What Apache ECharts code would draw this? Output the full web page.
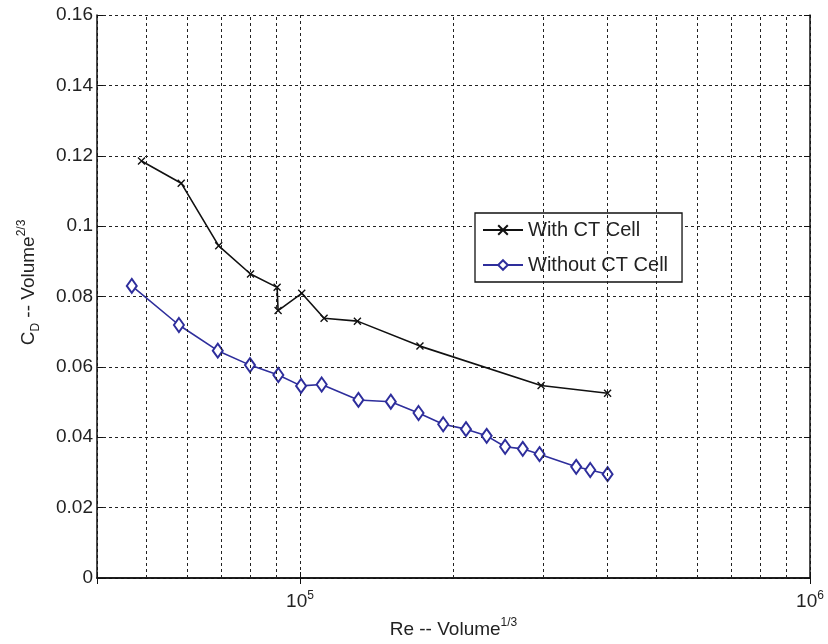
<!DOCTYPE html>
<html><head><meta charset="utf-8">
<script src="https://cdn.jsdelivr.net/npm/echarts@6/dist/echarts.min.js"></script>
<style>html,body{margin:0;padding:0;background:#fff}#c{width:828px;height:644px}</style>
</head><body><div id="c"></div>
<script>
// ---- data ----
const seriesNames = ['With CT Cell', 'Without CT Cell'];
const withCT_Re = [48900, 58500, 69300, 80000, 90200, 90600, 100800, 111500, 129600, 171900, 297000, 401000];
const withCT_CD = [0.1185, 0.1122, 0.0944, 0.0864, 0.0826, 0.0760, 0.0809, 0.0738, 0.0730, 0.0659, 0.0547, 0.0525];
const withoutCT_Re = [46800, 57900, 69000, 79800, 90700, 100500, 110300, 130200, 150700, 170800, 190900, 211600, 232300, 252500, 273400, 294900, 348000, 370800, 401000];
const withoutCT_CD = [0.0830, 0.0719, 0.0646, 0.0605, 0.0577, 0.0546, 0.0550, 0.0506, 0.0501, 0.0469, 0.0437, 0.0423, 0.0404, 0.0373, 0.0367, 0.0352, 0.0316, 0.0307, 0.0295];
const xRange = [4e4, 1e6];
const yRange = [0, 0.16];
const yStep = 0.02;
const minorGridRe = [5e4, 6e4, 7e4, 8e4, 9e4, 2e5, 3e5, 4e5, 5e5, 6e5, 7e5, 8e5, 9e5];
const xAxisTitle = '{n|Re -- Volume}{sup|1/3}';
const yAxisTitle = '{n|C}{sub|D}{n| -- Volume}{sup|2/3}';

const FONT = 'Liberation Sans';
const TXT = '#222';
const FS = 19;
const gridLine = { show: true, lineStyle: { color: '#222', type: [3, 3], width: 1 } };

function zip(xs, ys) { return xs.map((x, i) => [x, ys[i]]); }
function powLabel(v) {
  const e = Math.log10(v), r = Math.round(e);
  return Math.abs(e - r) < 1e-6 ? '{b|10}{s|' + r + '}' : '';
}

const chart = echarts.init(document.getElementById('c'), null, { renderer: 'canvas' });
chart.setOption({
  animation: false,
  backgroundColor: '#fff',
  textStyle: { fontFamily: FONT, color: TXT },
  grid: { left: 97, right: 18, top: 15, bottom: 66 },
  legend: {
    orient: 'vertical', left: 475, top: 213,
    backgroundColor: '#fff', borderColor: '#111', borderWidth: 1.3,
    padding: [7, 14, 7, 7], itemGap: 15, itemWidth: 40, itemHeight: 12,
    textStyle: { fontFamily: FONT, fontSize: 20, color: TXT },
    data: seriesNames
  },
  xAxis: [{
    type: 'log', logBase: 10, min: xRange[0], max: xRange[1],
    axisLine: { show: true, onZero: false, lineStyle: { color: '#111', width: 1.5 } },
    axisTick: { show: true, inside: true, length: 6, lineStyle: { color: '#111' } },
    axisLabel: {
      margin: 12, formatter: powLabel, color: TXT, fontFamily: FONT,
      rich: { b: { fontSize: FS, lineHeight: 24, fontFamily: FONT, color: TXT }, s: { fontSize: 12, lineHeight: 12, verticalAlign: 'top', fontFamily: FONT, color: TXT } }
    },
    splitLine: gridLine,
    name: xAxisTitle, nameLocation: 'middle', nameGap: 36,
    nameTextStyle: {
      rich: { n: { fontSize: FS, lineHeight: 26, fontFamily: FONT, color: TXT }, sup: { fontSize: 12, lineHeight: 12, verticalAlign: 'top', fontFamily: FONT, color: TXT } }
    }
  }, {
    type: 'log', logBase: 10, min: xRange[0], max: xRange[1], position: 'top',
    axisLine: { show: true, lineStyle: { color: '#111', width: 1.5 } },
    axisTick: { show: true, inside: true, length: 6, lineStyle: { color: '#111' } },
    axisLabel: { show: false }, splitLine: { show: false }
  }],
  yAxis: [{
    type: 'value', min: yRange[0], max: yRange[1], interval: yStep,
    axisLine: { show: true, lineStyle: { color: '#111', width: 1.5 } },
    axisTick: { show: true, inside: true, length: 6, lineStyle: { color: '#111' } },
    axisLabel: { margin: 4, fontSize: FS, color: TXT, fontFamily: FONT },
    splitLine: gridLine,
    name: yAxisTitle, nameLocation: 'middle', nameGap: 55, nameRotate: 90,
    nameTextStyle: {
      padding: [0, 0, 0, 28],
      rich: {
        n: { fontSize: FS, lineHeight: 26, fontFamily: FONT, color: TXT },
        sub: { fontSize: 12, lineHeight: 12, verticalAlign: 'bottom', fontFamily: FONT, color: TXT },
        sup: { fontSize: 12, lineHeight: 12, verticalAlign: 'top', fontFamily: FONT, color: TXT }
      }
    }
  }, {
    type: 'value', min: yRange[0], max: yRange[1], interval: yStep, position: 'right',
    axisLine: { show: true, lineStyle: { color: '#111', width: 1.5 } },
    axisTick: { show: true, inside: true, length: 6, lineStyle: { color: '#111' } },
    axisLabel: { show: false }, splitLine: { show: false }
  }],
  series: [{
    name: seriesNames[0], type: 'line', xAxisIndex: 0, yAxisIndex: 0,
    data: zip(withCT_Re, withCT_CD),
    symbol: 'path://M0,0L10,10M10,0L0,10', symbolSize: 7,
    showAllSymbol: true,
    lineStyle: { color: '#111', width: 1.6 },
    itemStyle: { color: '#111', borderColor: '#111', borderWidth: 1.4 },
    markLine: {
      silent: true, symbol: 'none', label: { show: false },
      lineStyle: { color: '#222', type: [3, 3], width: 1 },
      emphasis: { disabled: true },
      data: minorGridRe.map(v => ({ xAxis: v }))
    },
    z: 3
  }, {
    name: seriesNames[1], type: 'line', xAxisIndex: 0, yAxisIndex: 0,
    data: zip(withoutCT_Re, withoutCT_CD),
    symbol: 'emptyDiamond', symbolSize: [10, 14],
    showAllSymbol: true,
    lineStyle: { color: '#2e2e9c', width: 1.6 },
    itemStyle: { color: '#2e2e9c', borderWidth: 1.6 },
    z: 4
  }]
});
</script>
</body></html>
